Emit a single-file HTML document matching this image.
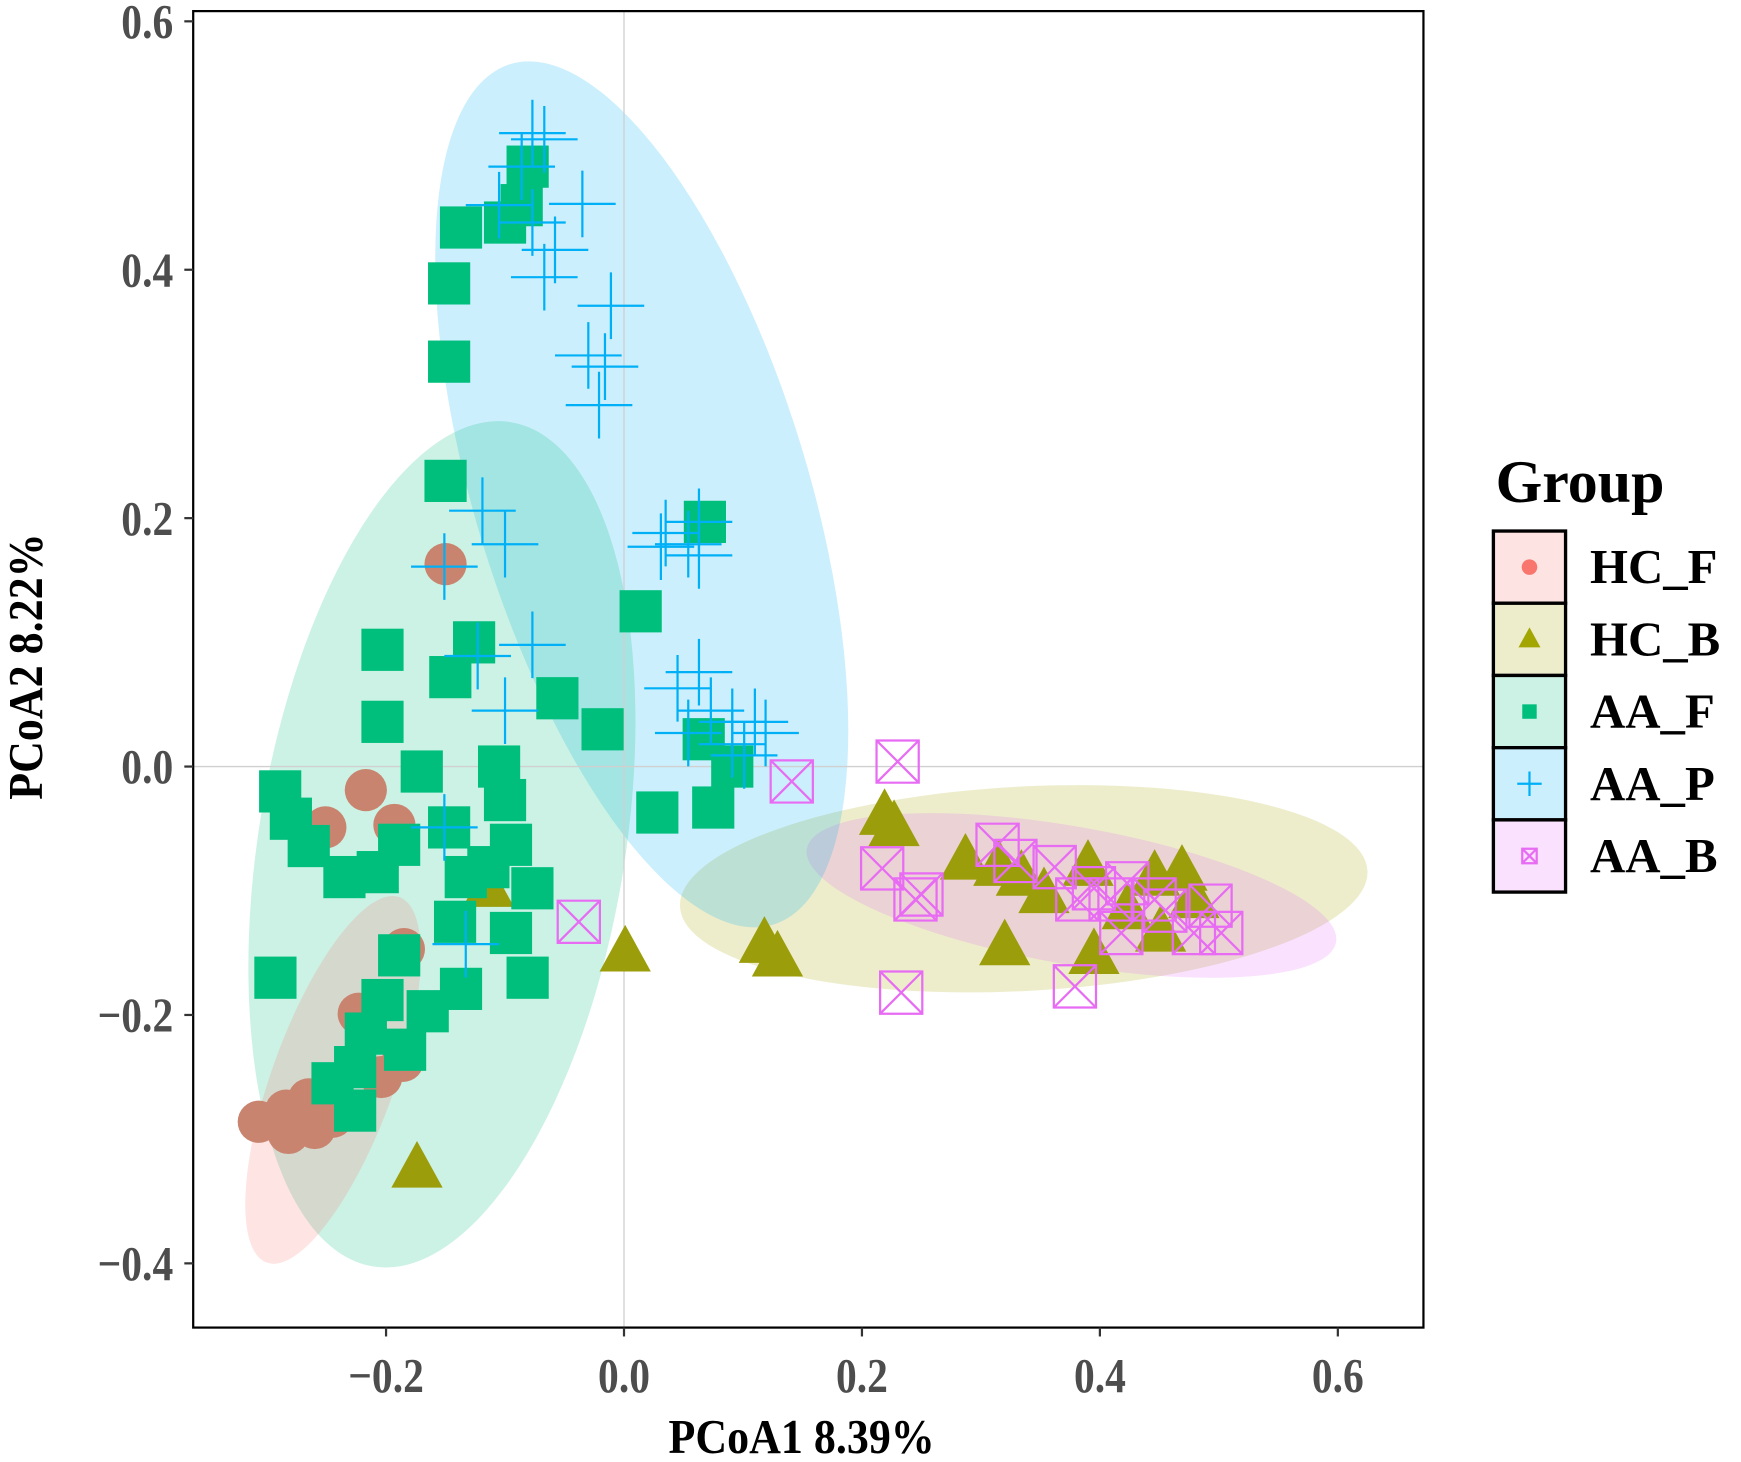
<!DOCTYPE html>
<html><head><meta charset="utf-8"><style>
html,body{margin:0;padding:0;background:#fff;}
svg{display:block;}
text{font-family:"Liberation Serif",serif;font-weight:bold;}
</style></head><body>
<svg id="chart" width="1741" height="1462" viewBox="0 0 1568 1316" preserveAspectRatio="none" xmlns="http://www.w3.org/2000/svg">
<g id="ellipses">
<ellipse cx="922" cy="800" rx="310" ry="92" transform="rotate(-3 922 800)" fill="#A3A500" fill-opacity="0.2"/>
<ellipse cx="965" cy="806" rx="242" ry="62" transform="rotate(10 965 806)" fill="#E76BF3" fill-opacity="0.2"/>
<ellipse cx="578" cy="445" rx="150" ry="405" transform="rotate(-17 578 445)" fill="#00B0F6" fill-opacity="0.2"/>
<ellipse cx="398" cy="760" rx="165" ry="385" transform="rotate(9.3 398 760)" fill="#00BF7D" fill-opacity="0.2"/>
<ellipse cx="300" cy="972" rx="55" ry="175" transform="rotate(20 300 972)" fill="#F8766D" fill-opacity="0.2"/>
</g>
<line x1="562" y1="10" x2="562" y2="1195" stroke="#d0d0d0" stroke-width="1.2"/>
<line x1="174" y1="690" x2="1282" y2="690" stroke="#d0d0d0" stroke-width="1.2"/>
<g id="points"></g>
<rect x="174" y="10" width="1108" height="1185" fill="none" stroke="#000" stroke-width="2"/>
<g id="axes"></g>
<text transform="translate(722 1308) scale(0.9 1)" font-size="44" text-anchor="middle" fill="#000">PCoA1 8.39%</text>
<text transform="translate(38 600) rotate(-90) scale(0.9 1)" font-size="44" text-anchor="middle" fill="#000">PCoA2 8.22%</text>
<g id="legend">
<text x="1347" y="452" font-size="54" fill="#000">Group</text>
</g>
</svg>
<script>
const xTicks=[-0.2,0,0.2,0.4,0.6];
const yTicks=[-0.4,-0.2,0,0.2,0.4,0.6];
const hcF=[[-0.150,0.163],[-0.217,-0.019],[-0.251,-0.049],[-0.193,-0.047],[-0.185,-0.147],[-0.223,-0.199],[-0.204,-0.250],[-0.186,-0.237],[-0.307,-0.286],[-0.284,-0.277],[-0.260,-0.291],[-0.265,-0.268],[-0.282,-0.295],[-0.245,-0.282]];
const hcB=[[0.219,-0.040],[0.227,-0.049],[0.001,-0.150],[0.118,-0.143],[0.129,-0.154],[-0.174,-0.324],[-0.114,-0.098],[0.287,-0.076],[0.320,-0.145],[0.353,-0.103],[0.390,-0.081],[0.395,-0.152],[0.446,-0.089],[0.469,-0.085],[0.451,-0.134],[0.334,-0.089],[0.315,-0.081],[0.423,-0.116],[0.479,-0.107]];
const aaF=[[-0.137,0.434],[-0.147,0.389],[-0.147,0.326],[-0.150,0.230],[-0.081,0.483],[-0.086,0.452],[-0.100,0.438],[-0.203,0.094],[-0.126,0.100],[-0.146,0.072],[-0.056,0.055],[-0.203,0.036],[-0.018,0.030],[0.014,0.125],[0.068,0.197],[0.067,0.022],[0.028,-0.037],[0.075,-0.033],[0.091,0.000],[-0.289,-0.020],[-0.280,-0.042],[-0.265,-0.064],[-0.235,-0.089],[-0.207,-0.085],[-0.189,-0.063],[-0.170,-0.004],[-0.147,-0.049],[-0.105,0.000],[-0.100,-0.027],[-0.095,-0.063],[-0.133,-0.089],[-0.114,-0.081],[-0.142,-0.125],[-0.077,-0.098],[-0.095,-0.134],[-0.081,-0.170],[-0.137,-0.179],[-0.189,-0.152],[-0.203,-0.188],[-0.165,-0.197],[-0.293,-0.170],[-0.217,-0.215],[-0.226,-0.242],[-0.245,-0.255],[-0.226,-0.277],[-0.184,-0.228]];
const aaP=[[-0.077,0.510],[-0.086,0.483],[-0.067,0.505],[-0.105,0.452],[-0.077,0.438],[-0.035,0.453],[-0.058,0.416],[-0.067,0.394],[-0.011,0.371],[-0.030,0.331],[-0.016,0.322],[-0.021,0.291],[-0.119,0.206],[-0.100,0.179],[-0.151,0.161],[-0.077,0.098],[-0.123,0.089],[-0.100,0.045],[-0.151,-0.049],[-0.133,-0.143],[0.035,0.188],[0.054,0.179],[0.063,0.197],[0.063,0.170],[0.045,0.063],[0.063,0.076],[0.073,0.045],[0.091,0.036],[0.110,0.036],[0.119,0.027],[0.091,0.018],[0.101,0.009],[0.054,0.027],[0.031,0.177]];
const aaB=[[0.230,0.004],[0.141,-0.012],[-0.038,-0.125],[0.217,-0.082],[0.250,-0.103],[0.245,-0.107],[0.233,-0.182],[0.379,-0.177],[0.314,-0.063],[0.329,-0.076],[0.362,-0.081],[0.395,-0.098],[0.409,-0.107],[0.423,-0.094],[0.446,-0.107],[0.455,-0.116],[0.479,-0.134],[0.493,-0.112],[0.502,-0.134],[0.418,-0.134],[0.381,-0.107]];
const groups=["HC_F","HC_B","AA_F","AA_P","AA_B"];
const NS="http://www.w3.org/2000/svg";
const sx=v=>562+v*1071.5;
const sy=v=>690-v*1118;
function mk(tag,attrs,parent){const e=document.createElementNS(NS,tag);for(const k in attrs)e.setAttribute(k,attrs[k]);parent.appendChild(e);return e;}
const P=document.getElementById('points');
const axes=document.getElementById('axes');
xTicks.forEach(t=>{
  const l=mk('line',{x1:sx(t),x2:sx(t),y1:1195,y2:1203,stroke:'#333','stroke-width':2},axes);
  
  
  const tx=mk('text',{transform:`translate(${sx(t)} 1253) scale(0.85 1)`,'font-size':44,'text-anchor':'middle',fill:'#4d4d4d'},axes);
  tx.textContent=(t<0?'\u2212':'')+Math.abs(t).toFixed(1);
  
  
});
yTicks.forEach(t=>{
  const l=mk('line',{x1:166,x2:174,y1:sy(t),y2:sy(t),stroke:'#333','stroke-width':2},axes);
  
  
  const tx=mk('text',{transform:`translate(156 ${sy(t)+15}) scale(0.85 1)`,'font-size':44,'text-anchor':'end',fill:'#4d4d4d'},axes);
  tx.textContent=(t<0?'\u2212':'')+Math.abs(t).toFixed(1);
  
  
});
function circle(x,y,r,g){const e=mk('circle',{cx:x,cy:y,r:r,fill:'#C9846F'},g);return e;}
function tri(x,y,s,g){const h=s;return mk('polygon',{points:`${x},${y-h*0.6} ${x-h*0.55},${y+h*0.4} ${x+h*0.55},${y+h*0.4}`,fill:'#9B9D0A'},g);}
function sq(x,y,s,g){return mk('rect',{x:x-s/2,y:y-s/2,width:s,height:s,fill:'#00BF7D'},g);}
function plus(x,y,s,g){const p=mk('path',{d:`M${x-s/2},${y}H${x+s/2}M${x},${y-s/2}V${y+s/2}`,stroke:'#00B0F6','stroke-width':2,fill:'none'},g);return p;}
function bx(x,y,s,g){const h=s/2;return mk('path',{d:`M${x-h},${y-h}h${s}v${s}h${-s}zM${x-h},${y-h}L${x+h},${y+h}M${x+h},${y-h}L${x-h},${y+h}`,stroke:'#E76BF3','stroke-width':2,fill:'none'},g);}
const gA=mk('g',{},P);
const gB=mk('g',{},P);
const gC=mk('g',{},P);
const gD=mk('g',{},P);
const gE=mk('g',{},P);
hcF.forEach(d=>{const e=circle(sx(d[0]),sy(d[1]),19,gA);

});
hcB.forEach(d=>{const e=tri(sx(d[0]),sy(d[1]),42,gB);

});
aaF.forEach(d=>{const e=sq(sx(d[0]),sy(d[1]),38,gC);

});
aaP.forEach(d=>{const e=plus(sx(d[0]),sy(d[1]),60,gD);

});
aaB.forEach(d=>{const e=bx(sx(d[0]),sy(d[1]),38,gE);

});
const L=document.getElementById('legend');
const keyFill=['#FDE3E1','#EDEDCC','#CCF2E5','#CCEFFD','#FAE1FD'];
groups.forEach((g,i)=>{
  const y=478+i*65;
  const r=mk('rect',{x:1345,y:y,width:65,height:65,fill:keyFill[i],stroke:'#000','stroke-width':3},L);
  
  
  const cx=1377.5,cy=y+32.5;
  let m;
  if(i===0){m=mk('circle',{cx:cx,cy:cy,r:7,fill:'#F8766D'},L);}
  else if(i===1){m=tri(cx,cy,18,L);m.setAttribute('fill','#A3A500');}
  else if(i===2){m=sq(cx,cy,13,L);}
  else if(i===3){m=plus(cx,cy,22,L);}
  else {m=bx(cx,cy,13,L);}
  
  
  const t=mk('text',{x:1432,y:y+47,'font-size':44,fill:'#000'},L);
  t.textContent=g;
  
  
});
</script>
</body></html>
